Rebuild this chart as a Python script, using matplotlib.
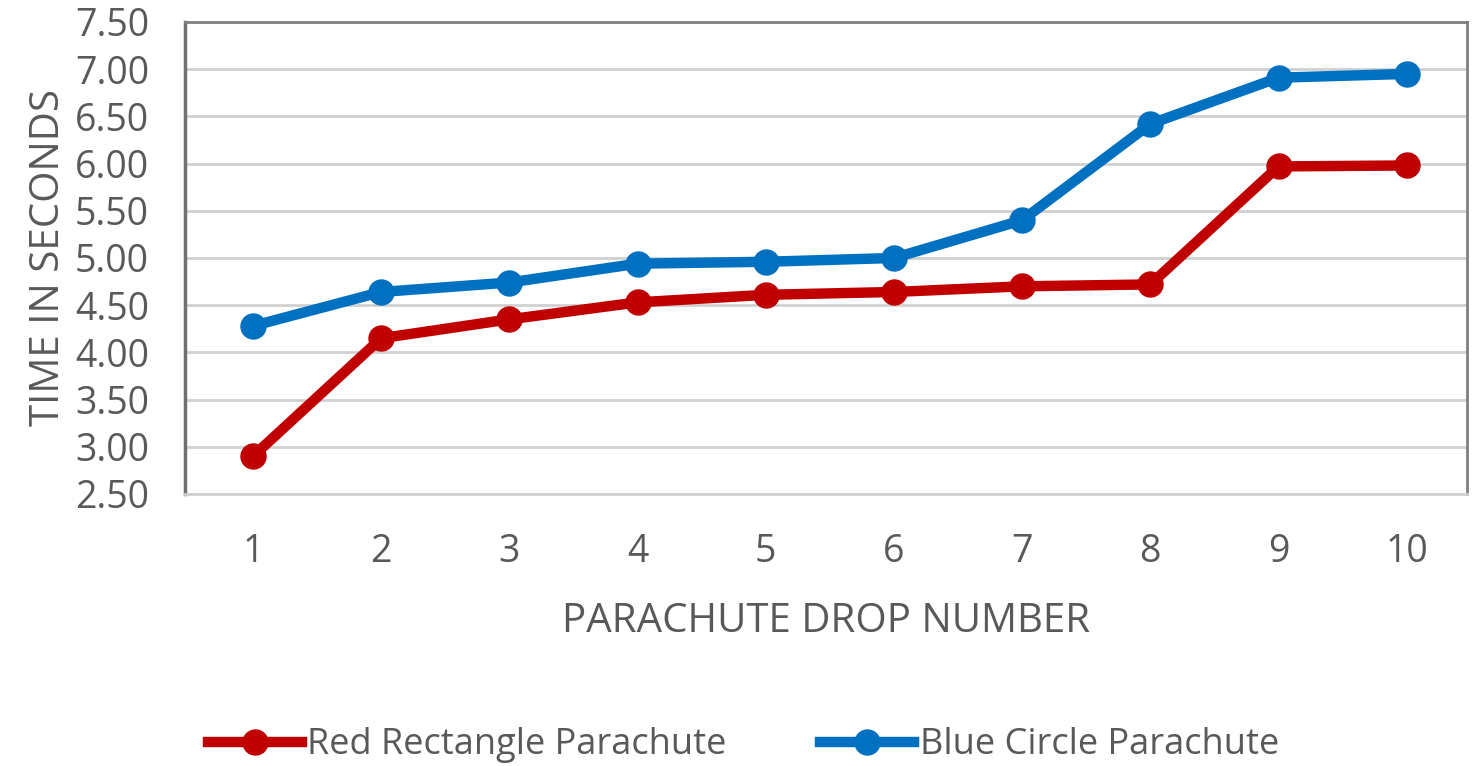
import matplotlib
matplotlib.use("Agg")
import matplotlib.pyplot as plt

drops = [1, 2, 3, 4, 5, 6, 7, 8, 9, 10]
red_rect = [2.90, 4.15, 4.35, 4.53, 4.61, 4.64, 4.70, 4.72, 5.97, 5.98]
blue_circle = [4.28, 4.64, 4.74, 4.94, 4.96, 5.00, 5.40, 6.42, 6.91, 6.95]
yticks = [2.5, 3.0, 3.5, 4.0, 4.5, 5.0, 5.5, 6.0, 6.5, 7.0, 7.5]

plt.rcParams['font.family'] = ['Open Sans', 'DejaVu Sans']
fig = plt.figure(figsize=(14.72, 7.66), dpi=100)
ax = fig.add_axes([0.1257, 0.3551, 0.9966 - 0.1257, 0.9713 - 0.3551])

red_c = '#C00000'
blue_c = '#0070C0'
ax.plot(drops, red_rect, color=red_c, lw=7.5, marker='o', ms=18,
        label='Red Rectangle Parachute', zorder=3)
ax.plot(drops, blue_circle, color=blue_c, lw=7.5, marker='o', ms=18,
        label='Blue Circle Parachute', zorder=3)

ax.set_xlim(0.47, 10.47)
ax.set_ylim(2.5, 7.5)
ax.set_yticks(yticks)
ax.set_yticklabels([f"{v:.2f}" for v in yticks])
ax.set_xticks(drops)
ax.grid(axis='y', color='#D0D0D0', lw=2)
ax.set_axisbelow(True)

for s in ['top', 'right']:
    ax.spines[s].set_color('#808080')
    ax.spines[s].set_linewidth(2)
ax.spines['left'].set_color('#707070')
ax.spines['left'].set_linewidth(2.5)
ax.spines['bottom'].set_color('#D0D0D0')
ax.spines['bottom'].set_linewidth(2)

ax.tick_params(axis='both', length=0, labelsize=27, labelcolor='#595959')
ax.tick_params(axis='x', pad=28)
ax.tick_params(axis='y', pad=26)

ax.set_xlabel('PARACHUTE DROP NUMBER', fontsize=29, color='#595959', labelpad=22)
ax.set_ylabel('TIME IN SECONDS', fontsize=29, color='#595959', labelpad=4)

leg = fig.legend(loc='center', bbox_to_anchor=(0.505, 0.027), ncol=2, frameon=False,
                 fontsize=26, labelcolor='#595959', handlelength=2.6,
                 handletextpad=0.15, columnspacing=2.6)

fig.savefig('out.png', dpi=100)
